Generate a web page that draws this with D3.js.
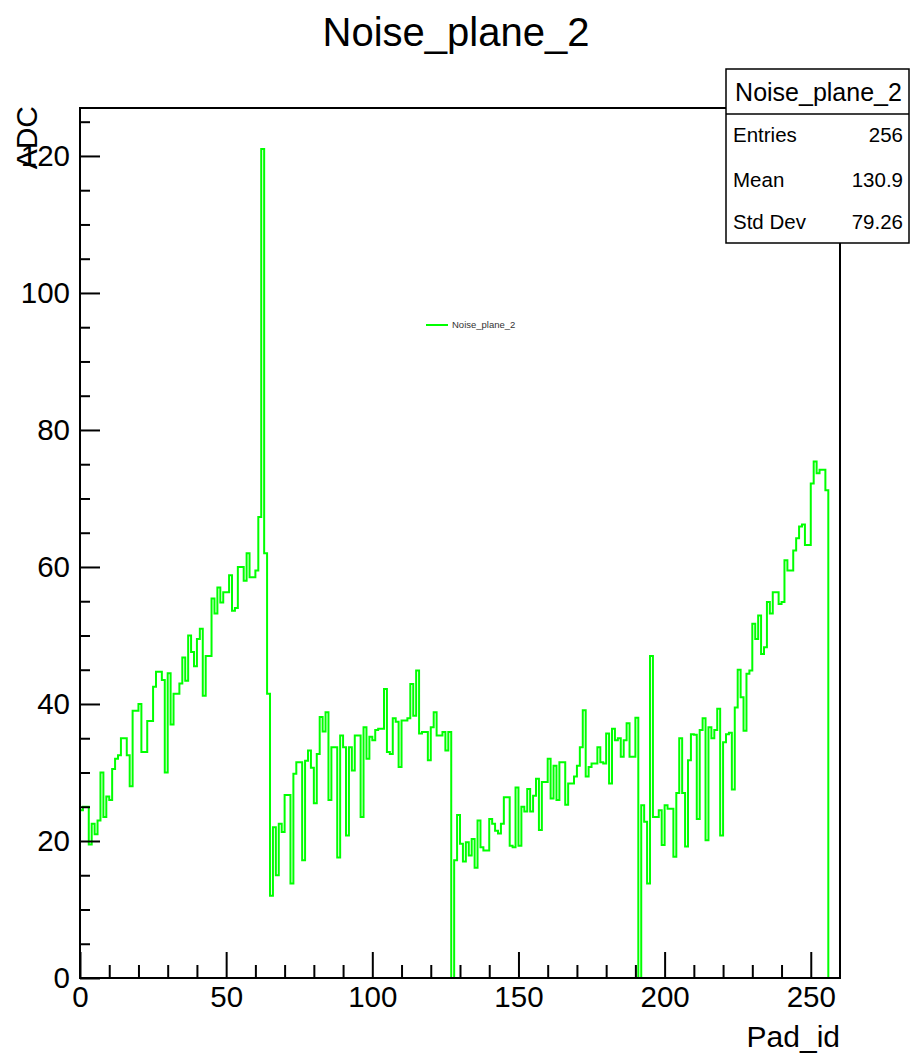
<!DOCTYPE html>
<html><head><meta charset="utf-8">
<script src="https://cdn.jsdelivr.net/npm/d3@7"></script>
<style>
body{margin:0;background:#fff;}
svg{display:block;}
text{font-family:"Liberation Sans",Arial,Helvetica,sans-serif;}
</style>
</head><body>
<svg id="c" width="911" height="1055"></svg>
<script>
// ---------- data ----------
const chartTitle = "Noise_plane_2";
const xTitle = "Pad_id";
const yTitle = "ADC";
const xDomain = [0, 260];
const yDomain = [0, 127];
const xMajorTicks = [0, 50, 100, 150, 200, 250];
const xMinorTicks = [10,20,30,40,60,70,80,90,110,120,130,140,160,170,180,190,210,220,230,240];
const yMajorTicks = [0, 20, 40, 60, 80, 100, 120];
const yMinorTicks = [5,10,15,25,30,35,45,50,55,65,70,75,85,90,95,105,110,115,125];
const statsLabels = ["Entries", "Mean", "Std Dev"];
const statsValues = ["256", "130.9", "79.26"];
const legendLabel = "Noise_plane_2";
// ADC noise per pad (bin i covers [i, i+1))
const adc = [
  24.5,25,25,19.5,22.5,21,23,30,23.5,26.5,26,30.5,32,32.5,35,35,
  32.5,28,39,39,40,33,33,37.5,37.5,42.5,44.7,44.7,43.5,30,44.5,37,
  41.5,41.5,43,46.8,43.4,50,47.6,45.5,49.5,51,41.2,47,47,55.4,53.2,57,
  54.8,56.3,56.3,58.8,53.6,54,60,60,58,62,58.5,58.5,59.5,67.3,121,62,
  41.5,12,22,15,22.5,21.3,26.7,26.7,13.8,29.8,31.5,31.5,17.2,31.7,33.2,30.7,
  25.5,32.7,38.1,36,38.8,26,33.7,33.7,17.6,35.4,33.7,20.8,33.7,30.3,35.4,35.4,
  23.5,36.6,32,35.2,34.7,36.2,36.4,36.4,42.2,33,32.7,37.9,37.4,30.8,37.6,37.6,
  37.9,42.9,38.3,44.9,35.7,35.9,35.9,31.8,36.6,38.8,35.4,35.4,35.9,33.2,35.9,0,
  17.2,23.8,19.6,17,19.8,17.9,20.3,16.1,23,19.1,18.6,18.6,23.2,22.5,21.5,21.1,
  22.5,26.4,26.4,19.3,19.1,27.8,19.3,25,24.3,27.6,24.3,26.6,29.1,21.6,28.6,28.6,
  32,26.2,31,26,31.5,31.5,25.3,28.4,28.4,29.4,31,33.7,39.1,29.4,30.8,31.3,
  31.3,33.7,31.5,31.3,35.7,28.4,36.4,34.7,35,32.3,34.7,37.2,32.3,32.3,38,0,
  25.2,22.8,13.8,47,23.5,23.5,24.5,19.4,25.2,24.7,24.7,17.7,27,35,27,19.2,
  31.8,35.6,35.5,23.2,36.2,37.9,20.1,36.6,35,36.2,39.3,20.8,34.4,35.6,35.8,27.5,
  39.5,45,41,36.1,44.4,44.9,51.7,49.5,52.9,47.3,48.3,54.9,53.2,56.3,56.3,54.6,
  54.9,61,59.5,59.5,62.4,64.2,65.9,66.2,63.2,63.2,72.2,75.4,73.7,74.2,74.2,71.2
];

// ---------- layout ----------
const svg = d3.select("#c");
svg.append("rect").attr("width",911).attr("height",1055).attr("fill","#fff");
const L = 80, R = 840, T = 108, B = 978;
const x = d3.scaleLinear().domain(xDomain).range([L, R]);
const y = d3.scaleLinear().domain(yDomain).range([B, T]);

// title
svg.append("text").attr("x",456).attr("y",46).attr("text-anchor","middle")
  .attr("font-size",40).attr("fill","#000").text(chartTitle);

// histogram
const pts = [[xDomain[0], 0]];
adc.forEach((v,i)=>pts.push([i, v]));
pts.push([adc.length, 0]);
pts.push([xDomain[1], 0]);
const line = d3.line().x(d=>x(d[0])).y(d=>y(d[1])).curve(d3.curveStepAfter);
svg.append("path").attr("d", line(pts)).attr("fill","none")
  .attr("stroke","#00ff00").attr("stroke-width",2);

// axes
function styleAxis(g){
  g.select(".domain").remove();
  g.selectAll(".tick line").attr("stroke","#000").attr("stroke-width",2);
  g.selectAll(".tick text").attr("fill","#000").attr("font-size",29.5)
    .attr("font-family",'"Liberation Sans",Arial,sans-serif');
}
svg.append("g").attr("transform",`translate(0,${B})`)
  .call(d3.axisBottom(x).tickValues(xMajorTicks).tickSize(-26).tickPadding(8).tickFormat(d3.format("d")))
  .call(styleAxis);
svg.append("g").attr("transform",`translate(0,${B})`)
  .call(d3.axisBottom(x).tickValues(xMinorTicks).tickSize(-13).tickFormat(""))
  .call(styleAxis);
svg.append("g").attr("transform",`translate(${L},0)`)
  .call(d3.axisLeft(y).tickValues(yMajorTicks).tickSize(-20).tickPadding(10).tickFormat(d3.format("d")))
  .call(styleAxis);
svg.append("g").attr("transform",`translate(${L},0)`)
  .call(d3.axisLeft(y).tickValues(yMinorTicks).tickSize(-10).tickFormat(""))
  .call(styleAxis);

// frame
svg.append("rect").attr("x",L).attr("y",T).attr("width",R-L).attr("height",B-T)
  .attr("fill","none").attr("stroke","#000").attr("stroke-width",2);

// axis titles
svg.append("text").attr("x",R).attr("y",1047).attr("text-anchor","end")
  .attr("font-size",30).attr("fill","#000").text(xTitle);
svg.append("text").attr("transform",`translate(37,${T-2}) rotate(-90)`).attr("text-anchor","end")
  .attr("font-size",30).attr("fill","#000").text(yTitle);

// legend
svg.append("line").attr("x1",426).attr("x2",448).attr("y1",325).attr("y2",325)
  .attr("stroke","#00ff00").attr("stroke-width",2);
svg.append("text").attr("x",452).attr("y",328).attr("font-size",9.5).attr("fill","#333").text(legendLabel);

// stats box
const bx = 726, by = 69, bw = 183, bh = 174, sep = 114;
svg.append("rect").attr("x",bx).attr("y",by).attr("width",bw).attr("height",bh)
  .attr("fill","#fff").attr("stroke","#000").attr("stroke-width",1.5);
svg.append("line").attr("x1",bx).attr("x2",bx+bw).attr("y1",sep).attr("y2",sep)
  .attr("stroke","#000").attr("stroke-width",1.5);
svg.append("text").attr("x",bx+bw/2+1).attr("y",101).attr("text-anchor","middle")
  .attr("font-size",25).attr("fill","#000").text(chartTitle);
const rowY = [142, 187, 229];
statsLabels.forEach((s,i)=>{
  svg.append("text").attr("x",733).attr("y",rowY[i]).attr("font-size",20.5).attr("fill","#000").text(s);
  svg.append("text").attr("x",903).attr("y",rowY[i]).attr("text-anchor","end").attr("font-size",20.5).attr("fill","#000").text(statsValues[i]);
});
</script>
</body></html>
